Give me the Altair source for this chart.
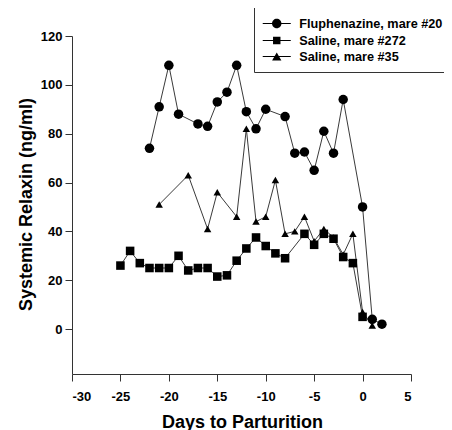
import altair as alt
import pandas as pd

# ---- data ----
series_names = ["Fluphenazine, mare #20", "Saline, mare #272", "Saline, mare #35"]

flu_x = [-22, -21, -20, -19, -17, -16, -15, -14, -13, -12, -11, -10, -8, -7, -6, -5, -4, -3, -2, 0, 1, 2]
flu_y = [74, 91, 108, 88, 84, 83, 93, 97, 108, 89, 82, 90, 87, 72, 72.5, 65, 81, 72, 94, 50, 4, 2]

sal272_x = [-25, -24, -23, -22, -21, -20, -19, -18, -17, -16, -15, -14, -13, -12, -11, -10, -9, -8,
            -6, -5, -4, -3, -2, -1, 0]
sal272_y = [26, 32, 27, 25, 25, 25, 30, 24, 25, 25, 21.5, 22, 28, 33, 37.5, 34, 31, 29,
            39, 34.5, 39, 37, 29.5, 27, 5]

sal35_x = [-21, -18, -16, -15, -13, -12, -11, -10, -9, -8, -7, -6, -5, -4, -3, -2, -1, 0, 1]
sal35_y = [51, 63, 41, 56, 46, 82, 44, 46, 61, 39, 40, 46, 36, 41, 37.5, 30.5, 39, 7, 1.5]

x_ticks = [-30, -25, -20, -15, -10, -5, 0, 5]
y_ticks = [0, 20, 40, 60, 80, 100, 120]

rows = []
for name, xs, ys in zip(series_names, [flu_x, sal272_x, sal35_x], [flu_y, sal272_y, sal35_y]):
    for xv, yv in zip(xs, ys):
        rows.append({"series": name, "day": xv, "relaxin": yv})
df = pd.DataFrame(rows)

FONT = "Liberation Sans"

x_enc = alt.X(
    "day:Q",
    scale=alt.Scale(domain=[-30, 5], nice=False, zero=False),
    axis=alt.Axis(
        values=x_ticks, title="Days to Parturition", grid=False,
        labelExpr="'' + datum.value",
        tickSize=7, labelPadding=15, labelBaseline="middle",
        titleX=170, titleY=53, titleBaseline="alphabetic", titleAlign="center",
        titleAnchor="middle",
    ),
)
y_enc = alt.Y(
    "relaxin:Q",
    scale=alt.Scale(domain=[-18.4, 120], nice=False, zero=False),
    axis=alt.Axis(
        values=y_ticks, title="Systemic Relaxin (ng/ml)", grid=False,
        labelExpr="'' + datum.value",
        tickSize=7, labelPadding=3,
        titleAngle=270, titleX=-46, titleY=168, titleAlign="center",
        titleBaseline="middle",
    ),
)

base = alt.Chart(df)

lines = base.mark_line(color="#3a3a3a", strokeWidth=1).encode(
    x=x_enc, y=y_enc, detail="series:N", order="day:Q"
)

points = base.mark_point(filled=True, color="black", opacity=1, strokeWidth=0).encode(
    x=x_enc,
    y=y_enc,
    shape=alt.Shape(
        "series:N",
        scale=alt.Scale(domain=series_names, range=["circle", "square", "triangle-up"]),
        legend=None,
    ),
    size=alt.Size(
        "series:N",
        scale=alt.Scale(domain=series_names, range=[90, 56, 86]),
        legend=None,
    ),
)

# legend symbols: a thin bar (the line) plus the marker, in Vega's unit symbol space
legend_paths = [
    "M-1.81,-0.065H1.81V0.065H-1.81ZM-0.61,0A0.61,0.61,0,1,1,0.61,0A0.61,0.61,0,1,1,-0.61,0Z",
    "M-1.81,-0.065H1.81V0.065H-1.81ZM-0.48,-0.48H0.48V0.48H-0.48Z",
    "M-1.81,-0.065H1.81V0.065H-1.81ZM0,-0.52L0.6,0.52L-0.6,0.52Z",
]

legend_layer = base.transform_filter("false").mark_point(
    filled=True, color="black", opacity=1
).encode(
    x=x_enc,
    y=y_enc,
    shape=alt.Shape(
        "series:N",
        scale=alt.Scale(domain=series_names, range=legend_paths),
        legend=alt.Legend(
            title=None, orient="none", legendX=182, legendY=-29,
            symbolSize=240, symbolOffset=6.25, labelOffset=14,
            padding=8, rowPadding=-2,
            labelFont=FONT, labelFontSize=12.7, labelFontWeight="bold", labelColor="black",
            strokeColor="#333333", fillColor="white", cornerRadius=0,
            labelLimit=300,
            symbolFillColor="black", symbolOpacity=1,
        ),
    ),
)

chart = alt.layer(lines, points, legend_layer).resolve_scale(
    shape="independent"
).properties(
    width=339, height=338,
    autosize=alt.AutoSizeParams(type="none"),
    padding={"left": 64, "top": 28, "right": 33, "bottom": 56},
).configure_view(
    stroke=None
).configure_axis(
    domainColor="#333333", tickColor="#333333", domainWidth=1, tickWidth=1,
    labelFont=FONT, labelFontSize=13, labelFontWeight="bold", labelColor="black",
    titleFont=FONT, titleFontSize=18, titleFontWeight="bold", titleColor="black",
)

chart.save("out.html", embed_options={"renderer": "svg", "actions": False})
